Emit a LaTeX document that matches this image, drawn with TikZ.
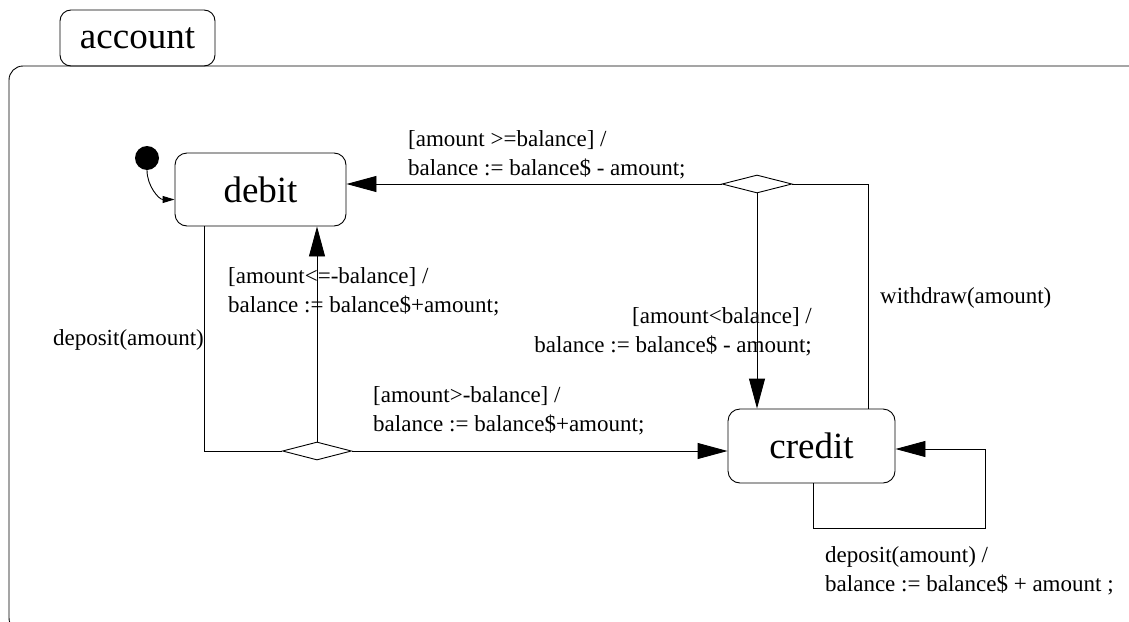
\documentclass[tikz,border=0pt]{standalone}
\usepackage{fontspec}
\setmainfont{Liberation Serif}
\usepackage{tikz}
\usetikzlibrary{arrows.meta, positioning, calc, shapes.geometric}
\tikzset{
  state/.style={draw, rounded corners=12pt, minimum width=171pt, minimum height=73pt, line width=0.9pt, font=\fontsize{37}{40}\selectfont},
  tab/.style={draw, rounded corners=11pt, minimum width=155pt, minimum height=56pt, line width=0.9pt, font=\fontsize{37}{40}\selectfont},
  choice/.style={draw, diamond, minimum width=70pt, minimum height=18pt, inner sep=0pt, line width=0.9pt},
  initial/.style={circle, fill=black, minimum size=24pt, inner sep=0pt},
  guard/.style={font=\fontsize{23}{29}\selectfont, inner sep=0pt},
  line/.style={line width=0.9pt},
  trans/.style={-{Triangle[length=30pt, width=16pt]}, line width=0.9pt},
  start/.style={-{Triangle[length=12pt, width=7pt]}, line width=0.9pt}
}

\begin{document}
\begin{tikzpicture}[x=1pt, y=-1pt]
        \useasboundingbox (0,0) rectangle (1129,621);

        % Frame of the composite state
        \begin{scope}
          \clip (0,0) rectangle (1129,621);
          \draw[line, rounded corners=14pt] (1140,66) -- (9,66) -- (9,632) -- (40,632);
        \end{scope}
        \node[tab] (acct) at (137.5,38) {account};

        % States
        \node[initial] (init) at (147,158) {};
        \node[state] (debit)  at (260.5,189.5) {debit};
        \node[state, minimum width=167pt, minimum height=74pt] (credit) at (811.5,446) {credit};

        % Choice points
        \node[choice] (topc) at (757,184) {};
        \node[choice, minimum width=69pt] (botc) at (317,451) {};

        % Bend points
        \coordinate (wd)  at (868,184);
        \coordinate (dp)  at (204,451);
        \coordinate (lp1) at (813,528);
        \coordinate (lp2) at (985,528);
        \coordinate (lp3) at (985,449);

        % Transitions
        \draw[start] (init.south) to[out=-90, in=180] ($(debit.west)+(0,10)$);
        \draw[trans] (topc.west) -- (topc.west -| debit.east);
        \draw[line]  (credit.north -| wd) -- (wd) -- (topc.east);
        \draw[trans] (topc.south) -- (topc.south |- credit.north);
        \draw[line]  (debit.south -| dp) -- (dp) -- (botc.west);
        \draw[trans] (botc.north) -- (botc.north |- debit.south);
        \draw[trans] (botc.east) -- (botc.east -| credit.west);
        \draw[trans] (credit.south -| lp1) -- (lp1) -- (lp2) -- (lp3) -- (lp3 -| credit.east);

        % Labels
        \node[guard, anchor=west, align=left] (g1) at (408,155) {[amount >=balance] /\\balance := balance\$ - amount;};
        \node[guard, anchor=west, align=left] (g2) at (228,292) {[amount<=-balance] /\\balance := balance\$+amount;};
        \node[guard, anchor=east] (g3) at (204,340) {deposit(amount)};
        \node[guard, anchor=west, align=left] (g4) at (373,411) {[amount>-balance] /\\balance := balance\$+amount;};
        \node[guard, anchor=east, align=right] (g5) at (812,332) {[amount<balance] /\\balance := balance\$ - amount;};
        \node[guard, anchor=west] (g6) at (880,298) {withdraw(amount)};
        \node[guard, anchor=west, align=left] (g7) at (825,571) {deposit(amount) /\\balance := balance\$ + amount ;};
    \end{tikzpicture}
\end{document}
